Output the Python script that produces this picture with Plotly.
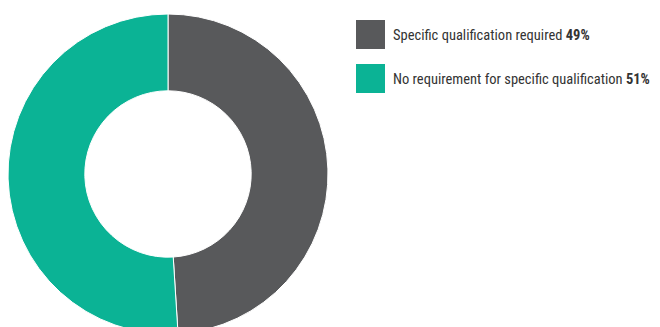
import plotly.graph_objects as go

labels = ["Specific qualification required", "No requirement for specific qualification"]
values = [49, 51]
colors = ["#58595b", "#0bb395"]

# the page body adds an 8px margin, so the figure is a bit smaller than the window
W, H = 652, 332

fig = go.Figure(go.Pie(
    labels=labels,
    values=values,
    hole=0.52,
    sort=False,
    direction="clockwise",
    rotation=0,
    textinfo="none",
    marker=dict(colors=colors, line=dict(color="white", width=1)),
    domain=dict(x=[0, 320 / W], y=[1 - 326 / H, 1 - 6 / H]),
    showlegend=False,
))

# legend drawn by hand: big square swatches + label with bold share
for i, (lab, val, col) in enumerate(zip(labels, values, colors)):
    top = 12 + i * 44
    fig.add_shape(type="rect", xref="paper", yref="paper",
                  x0=348 / W, x1=377 / W, y0=1 - (top + 29) / H, y1=1 - top / H,
                  fillcolor=col, line=dict(width=0))
    fig.add_annotation(xref="paper", yref="paper", x=383 / W, y=1 - (top + 15) / H,
                       xanchor="left", yanchor="middle", showarrow=False,
                       text=f"{lab} <b>{val}%</b>",
                       font=dict(size=14.5, color="#333333",
                                 family="Roboto Condensed, Roboto, sans-serif"))

fig.update_layout(
    width=W, height=H,
    margin=dict(l=0, r=0, t=0, b=0),
    paper_bgcolor="white",
    plot_bgcolor="white",
)

fig.write_html("out.html")
